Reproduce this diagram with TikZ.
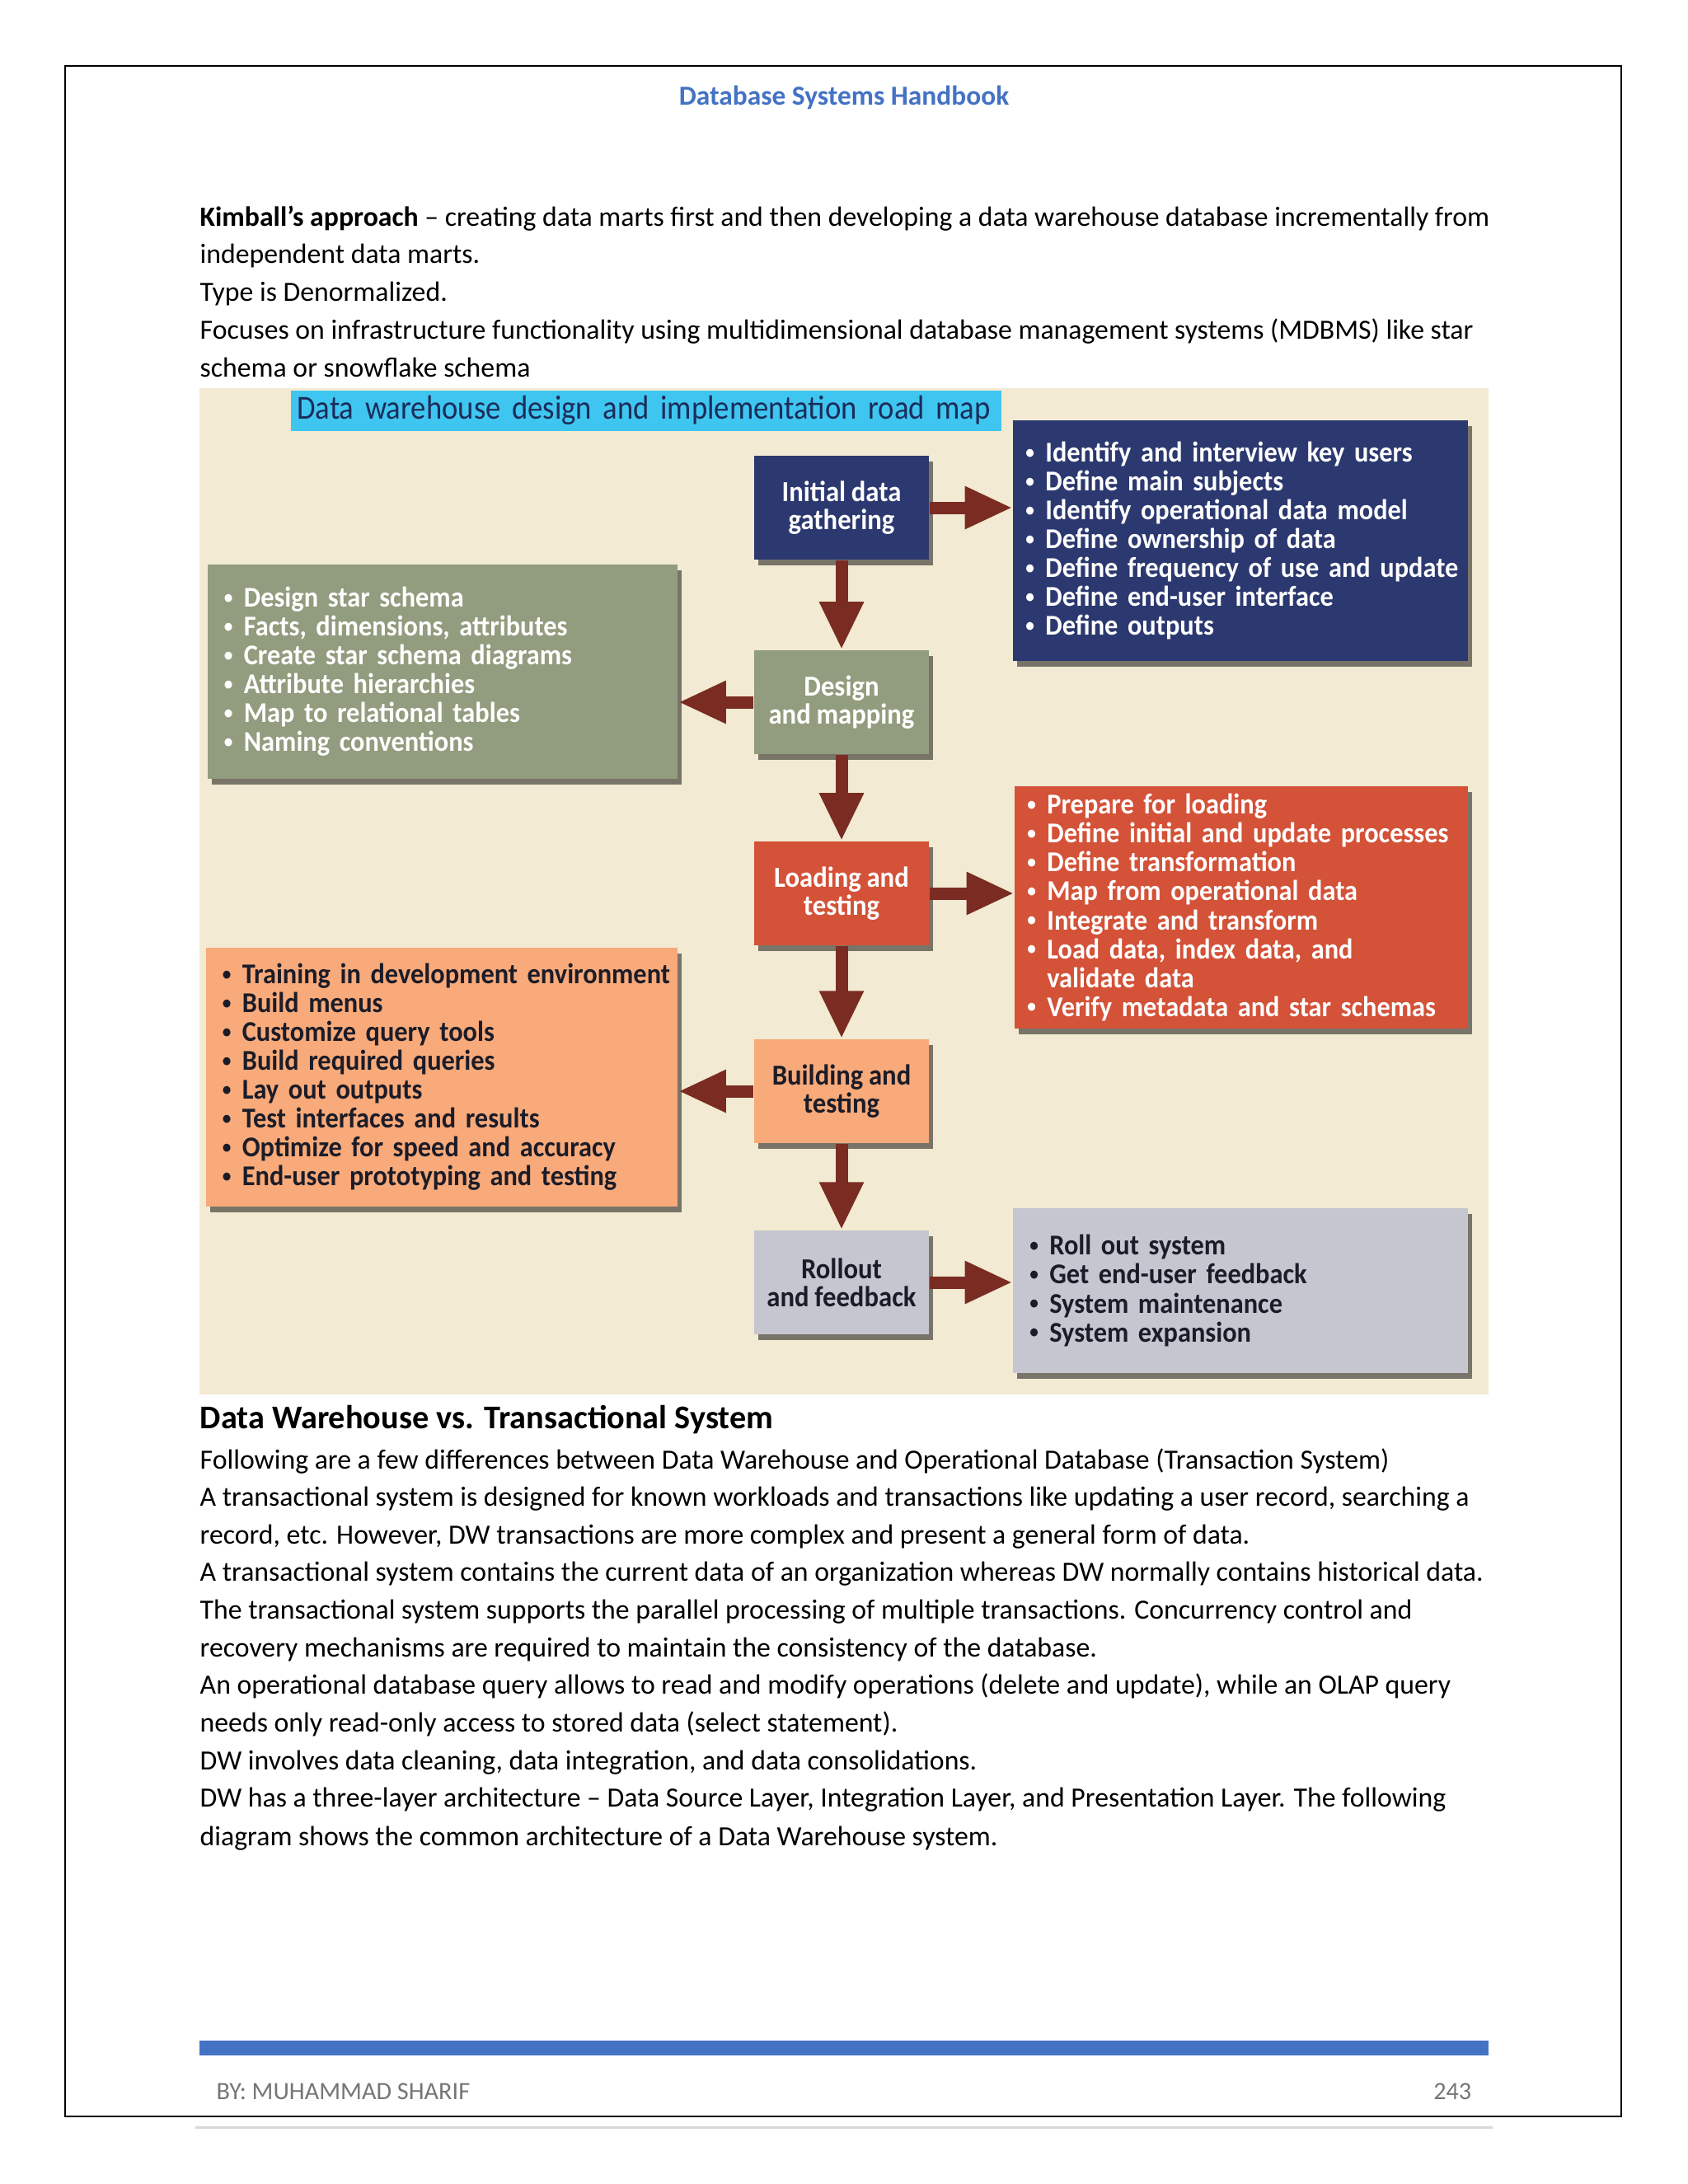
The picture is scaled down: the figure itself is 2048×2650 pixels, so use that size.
\documentclass[tikz,border=0pt]{standalone}
\usepackage{fontspec}
\setmainfont{Carlito}
\newfontfamily\dgfont{Carlito}[FakeStretch=0.93,WordSpace=0.9]
\newfontfamily\ttlfont{Carlito}[FakeStretch=0.9,WordSpace=0.8]
\usetikzlibrary{arrows.meta,shadows}
\definecolor{hdrblue}{RGB}{68,114,196}
\definecolor{bgbeige}{RGB}{242,234,210}
\definecolor{navybox}{RGB}{44,57,112}
\definecolor{greenbox}{RGB}{146,156,126}
\definecolor{redbox}{RGB}{211,82,56}
\definecolor{peachbox}{RGB}{248,170,122}
\definecolor{graybox}{RGB}{197,198,207}
\definecolor{arrowc}{RGB}{122,44,34}
\definecolor{titlebar}{RGB}{62,198,240}
\definecolor{titletext}{RGB}{28,44,90}
\definecolor{darktext}{RGB}{28,28,40}
\definecolor{footgray}{RGB}{118,118,118}
\newcommand\bu[1]{\mbox{\makebox[0.24cm][l]{\raisebox{0.25ex}{\fontsize{6.5}{6.5}\selectfont •}}#1}}
\newcommand\ind[1]{\mbox{\makebox[0.24cm][l]{}#1}}
\begin{document}
\begin{tikzpicture}[x=0.01cm,y=-0.01cm,
  bodyline/.style={anchor=base west,inner sep=0pt,font=\fontsize{9.6}{12}\selectfont},
  shad/.style={drop shadow={shadow xshift=0.05cm,shadow yshift=-0.07cm,opacity=0.5,fill=black}},
  stagebox/.style={shad,minimum width=2.12cm,minimum height=1.26cm,inner sep=0pt,align=center,
    font=\dgfont\bfseries\fontsize{10}{9.7}\selectfont},
  listbox/.style={shad,inner xsep=0.15cm,inner ysep=0pt,align=left,
    font=\dgfont\bfseries\fontsize{9.9}{9.96}\selectfont},
  varrow/.style={draw=arrowc,line width=0.15cm,-{Triangle[length=0.58cm,width=0.5cm]}},
  harrow/.style={draw=arrowc,line width=0.15cm,-{Triangle[length=0.58cm,width=0.48cm]}}
]
\useasboundingbox (0,0) rectangle (2048,2650);
\fill[white] (0,0) rectangle (2048,2650);
% page frame
\draw[black,line width=0.025cm] (79,80) rectangle (1967,2568);
\draw[black!15,line width=0.03cm] (237,2581) -- (1811,2581);
% header
\node[anchor=base,inner sep=0pt,text=hdrblue,font=\bfseries\fontsize{9.5}{12}\selectfont] (hdr) at (1024,127) {Database Systems Handbook};
% intro text
\node[bodyline] (t1) at (242,274) {\textbf{Kimball’s approach} – creating data marts first and then developing a data warehouse database incrementally from};
\node[bodyline] (t2) at (242,319) {independent data marts.};
\node[bodyline] (t3) at (242,365) {Type is Denormalized.};
\node[bodyline] (t4) at (242,411) {Focuses on infrastructure functionality using multidimensional database management systems (MDBMS) like star};
\node[bodyline] (t5) at (242,457) {schema or snowflake schema};
% diagram background
\fill[bgbeige] (242,471) rectangle (1806,1692);
\node[fill=titlebar,minimum width=8.61cm,minimum height=0.49cm,inner xsep=0.07cm,inner ysep=0pt,
  text width=8.47cm,align=left,text=titletext,font=\ttlfont\fontsize{11.6}{13}\selectfont] (title) at (784,498) {\mbox{Data warehouse design and implementation road map}};
% stage boxes
\node[stagebox,fill=navybox,text=white] (init) at (1021,616) {Initial data\\gathering};
\node[stagebox,fill=greenbox,text=white] (design) at (1021,852) {Design\\and mapping};
\node[stagebox,fill=redbox,text=white] (load) at (1021,1084) {Loading and\\testing};
\node[stagebox,fill=peachbox,text=darktext] (build) at (1021,1324) {Building and\\testing};
\node[stagebox,fill=graybox,text=darktext] (roll) at (1021,1556) {Rollout\\and feedback};
% list boxes
\node[listbox,fill=navybox,text=white,minimum height=2.92cm,text width=5.21cm] (blue) at (1505,656) {%
\bu{Identify and interview key users}\\
\bu{Define main subjects}\\
\bu{Identify operational data model}\\
\bu{Define ownership of data}\\
\bu{Define frequency of use and update}\\
\bu{Define end-user interface}\\
\bu{Define outputs}};
\node[listbox,fill=greenbox,text=white,minimum height=2.6cm,text width=5.3cm,inner xsep=0.2cm] (green) at (537,815) {%
\bu{Design star schema}\\
\bu{Facts, dimensions, attributes}\\
\bu{Create star schema diagrams}\\
\bu{Attribute hierarchies}\\
\bu{Map to relational tables}\\
\bu{Naming conventions}};
\node[listbox,fill=redbox,text=white,minimum height=2.93cm,text width=5.19cm] (red) at (1506,1101) {%
\bu{Prepare for loading}\\
\bu{Define initial and update processes}\\
\bu{Define transformation}\\
\bu{Map from operational data}\\
\bu{Integrate and transform}\\
\bu{Load data, index data, and}\\
\ind{validate data}\\
\bu{Verify metadata and star schemas}};
\node[listbox,fill=peachbox,text=darktext,minimum height=3.13cm,text width=5.32cm,inner xsep=0.2cm] (orange) at (536,1307) {%
\bu{Training in development environment}\\
\bu{Build menus}\\
\bu{Customize query tools}\\
\bu{Build required queries}\\
\bu{Lay out outputs}\\
\bu{Test interfaces and results}\\
\bu{Optimize for speed and accuracy}\\
\bu{End-user prototyping and testing}};
\node[listbox,fill=graybox,text=darktext,minimum height=1.99cm,text width=5.11cm,inner xsep=0.2cm] (gray) at (1505,1566) {%
\bu{Roll out system}\\
\bu{Get end-user feedback}\\
\bu{System maintenance}\\
\bu{System expansion}};
% connectors
\draw[varrow] (init) -- (design);
\draw[varrow] (design) -- (load);
\draw[varrow] (load) -- (build);
\draw[varrow] (build) -- (roll);
\draw[harrow] (init.east) -- (init.east -| blue.west);
\draw[harrow] (load.east) -- (load.east -| red.west);
\draw[harrow] (roll.east) -- (roll.east -| gray.west);
\draw[harrow] (design.west) -- (design.west -| green.east);
\draw[harrow] (build.west) -- (build.west -| orange.east);
% lower text
\node[bodyline,font=\bfseries\fontsize{11.45}{14}\selectfont] (h2) at (242,1733) {Data Warehouse vs. Transactional System};
\node[bodyline] (p1) at (242,1782) {Following are a few differences between Data Warehouse and Operational Database (Transaction System)};
\node[bodyline] (p2) at (242,1827) {A transactional system is designed for known workloads and transactions like updating a user record, searching a};
\node[bodyline] (p3) at (242,1873) {record, etc. However, DW transactions are more complex and present a general form of data.};
\node[bodyline] (p4) at (242,1918) {A transactional system contains the current data of an organization whereas DW normally contains historical data.};
\node[bodyline] (p5) at (242,1964) {The transactional system supports the parallel processing of multiple transactions. Concurrency control and};
\node[bodyline] (p6) at (242,2010) {recovery mechanisms are required to maintain the consistency of the database.};
\node[bodyline] (p7) at (242,2055) {An operational database query allows to read and modify operations (delete and update), while an OLAP query};
\node[bodyline] (p8) at (242,2101) {needs only read-only access to stored data (select statement).};
\node[bodyline] (p9) at (242,2147) {DW involves data cleaning, data integration, and data consolidations.};
\node[bodyline] (p10) at (242,2192) {DW has a three-layer architecture – Data Source Layer, Integration Layer, and Presentation Layer. The following};
\node[bodyline] (p11) at (242,2239) {diagram shows the common architecture of a Data Warehouse system.};
% footer
\fill[hdrblue] (242,2476) rectangle (1806,2494);
\node[anchor=base west,inner sep=0pt,text=footgray,font=\fontsize{8.6}{11}\selectfont] (by) at (262,2547) {BY: MUHAMMAD SHARIF};
\node[anchor=base east,inner sep=0pt,text=footgray,font=\fontsize{8.6}{11}\selectfont] (pg) at (1786,2547) {243};
\end{tikzpicture}
\end{document}
